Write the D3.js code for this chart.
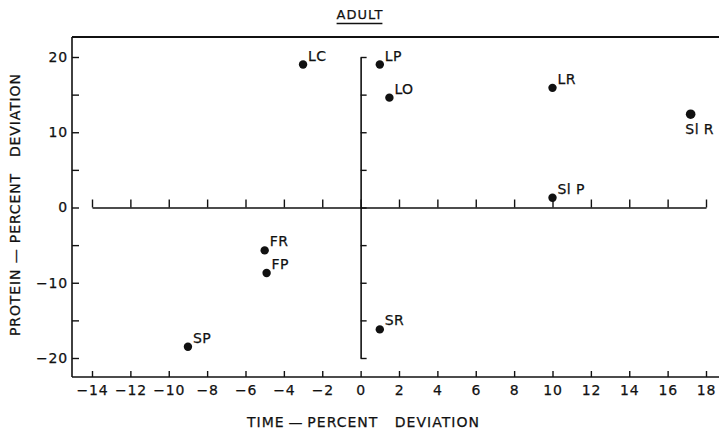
<!DOCTYPE html>
<html>
<head>
<meta charset="utf-8">
<script src="https://cdn.jsdelivr.net/npm/d3@7"></script>
<style>
  html, body { margin: 0; padding: 0; background: #fff; }
  svg { display: block; }
  text { font-family: "DejaVu Sans", sans-serif; fill: #111; stroke: #111; stroke-width: 0.25px; }
</style>
</head>
<body>
<svg id="chart" width="719" height="431"></svg>
<script>
// ---- data ----
const pointLabels = ["LC", "LP", "LO", "LR", "Sl R", "Sl P", "FR", "FP", "SP", "SR"];
const timeDeviation = [-3, 1, 1.5, 10, 17.2, 10, -5, -4.9, -9, 1];
const proteinDeviation = [19, 19, 14.6, 15.9, 12.4, 1.3, -5.7, -8.7, -18.5, -16.2];
const xTickValues = [-14, -12, -10, -8, -6, -4, -2, 0, 2, 4, 6, 8, 10, 12, 14, 16, 18];
const yTickValues = [-20, -15, -10, -5, 0, 5, 10, 15, 20];
const yLabelValues = [-20, -10, 0, 10, 20];
const titleText = "ADULT";
const xTitle = "TIME\u2009\u2014\u2009PERCENT\u00a0\u00a0\u00a0DEVIATION";
const yTitle = "PROTEIN\u00a0\u2014\u00a0PERCENT\u00a0\u00a0\u00a0DEVIATION";

// ---- layout ----
const frame = { left: 72, top: 37, bottom: 377, right: 719 };
const svg = d3.select("#chart");
const ink = "#111";

const x = d3.scaleLinear().domain([-14, 18]).range([92, 706]);
const y = d3.scaleLinear().domain([-20, 20]).range([358, 57]);
const fmt = d => (d < 0 ? "\u2212" : "") + Math.abs(d);

// frame lines (left, top, bottom)
const fg = svg.append("g").attr("stroke", ink).attr("fill", "none");
fg.append("line").attr("x1", frame.left).attr("x2", frame.left)
  .attr("y1", frame.top).attr("y2", frame.bottom).attr("stroke-width", 1.6);
fg.append("line").attr("x1", frame.left).attr("x2", frame.right)
  .attr("y1", frame.top).attr("y2", frame.top).attr("stroke-width", 2);
fg.append("line").attr("x1", frame.left).attr("x2", frame.right)
  .attr("y1", frame.bottom).attr("y2", frame.bottom).attr("stroke-width", 1.6);

// bottom frame axis
const bx = svg.append("g").attr("transform", `translate(0,${frame.bottom})`)
  .call(d3.axisBottom(x).tickValues(xTickValues).tickSize(-6).tickSizeOuter(0)
    .tickPadding(8).tickFormat(fmt));
bx.select(".domain").remove();
bx.selectAll(".tick line").attr("stroke", ink).attr("stroke-width", 1.4);
bx.selectAll(".tick text").attr("font-size", 14).attr("letter-spacing", 0.8)
  .attr("font-family", "DejaVu Sans, sans-serif").attr("fill", ink);

// left frame axis
const ly = svg.append("g").attr("transform", `translate(${frame.left},0)`)
  .call(d3.axisLeft(y).tickValues(yTickValues).tickSize(-7).tickSizeOuter(0)
    .tickPadding(4).tickFormat(d => yLabelValues.includes(d) ? fmt(d) : ""));
ly.select(".domain").remove();
ly.selectAll(".tick line").attr("stroke", ink).attr("stroke-width", 1.4);
ly.selectAll(".tick text").attr("font-size", 14).attr("letter-spacing", 0.8)
  .attr("font-family", "DejaVu Sans, sans-serif").attr("fill", ink);

// inner horizontal axis through zero
const hx = svg.append("g").attr("transform", `translate(0,${y(0)})`)
  .call(d3.axisTop(x).tickValues(xTickValues).tickSize(8).tickSizeOuter(0).tickFormat(""));
hx.select(".domain").attr("stroke", ink).attr("stroke-width", 1.6);
hx.selectAll(".tick line").attr("stroke", ink).attr("stroke-width", 1.4);

// inner vertical axis through zero
const vy = svg.append("g").attr("transform", `translate(${x(0)},0)`)
  .call(d3.axisRight(y).tickValues(yTickValues).tickSize(6).tickSizeOuter(0).tickFormat(""));
vy.select(".domain").attr("stroke", ink).attr("stroke-width", 1.6);
vy.selectAll(".tick line").attr("stroke", ink).attr("stroke-width", 1.4);

// points
const data = pointLabels.map((l, i) => ({ label: l, tx: timeDeviation[i], py: proteinDeviation[i] }));
const belowLabels = new Set(["Sl R"]);
svg.append("g").selectAll("circle").data(data).join("circle")
  .attr("cx", d => x(d.tx)).attr("cy", d => y(d.py))
  .attr("r", d => belowLabels.has(d.label) ? 4.8 : 4.2)
  .attr("fill", ink);

svg.append("g").selectAll("text").data(data).join("text")
  .attr("x", d => belowLabels.has(d.label) ? x(d.tx) + 9 : x(d.tx) + 5)
  .attr("y", d => belowLabels.has(d.label) ? y(d.py) + 20 : y(d.py) - 4)
  .attr("text-anchor", d => belowLabels.has(d.label) ? "middle" : "start")
  .attr("font-size", 14).attr("letter-spacing", 0.4)
  .text(d => d.label);

// title
const t = svg.append("text").attr("x", 360).attr("y", 19).attr("text-anchor", "middle")
  .attr("font-size", 13).attr("letter-spacing", 1).text(titleText);
const tb = t.node().getBBox();
svg.append("line").attr("x1", tb.x).attr("x2", tb.x + tb.width - 1)
  .attr("y1", 23.5).attr("y2", 23.5).attr("stroke", ink).attr("stroke-width", 1.3);

// axis titles
svg.append("text").attr("x", 363).attr("y", 427).attr("text-anchor", "middle")
  .attr("font-size", 14).attr("textLength", 232).attr("lengthAdjust", "spacing")
  .text(xTitle);
svg.append("text").attr("transform", `translate(20,${205}) rotate(-90)`)
  .attr("text-anchor", "middle")
  .attr("font-size", 14).attr("textLength", 262).attr("lengthAdjust", "spacing")
  .text(yTitle);
</script>
</body>
</html>
